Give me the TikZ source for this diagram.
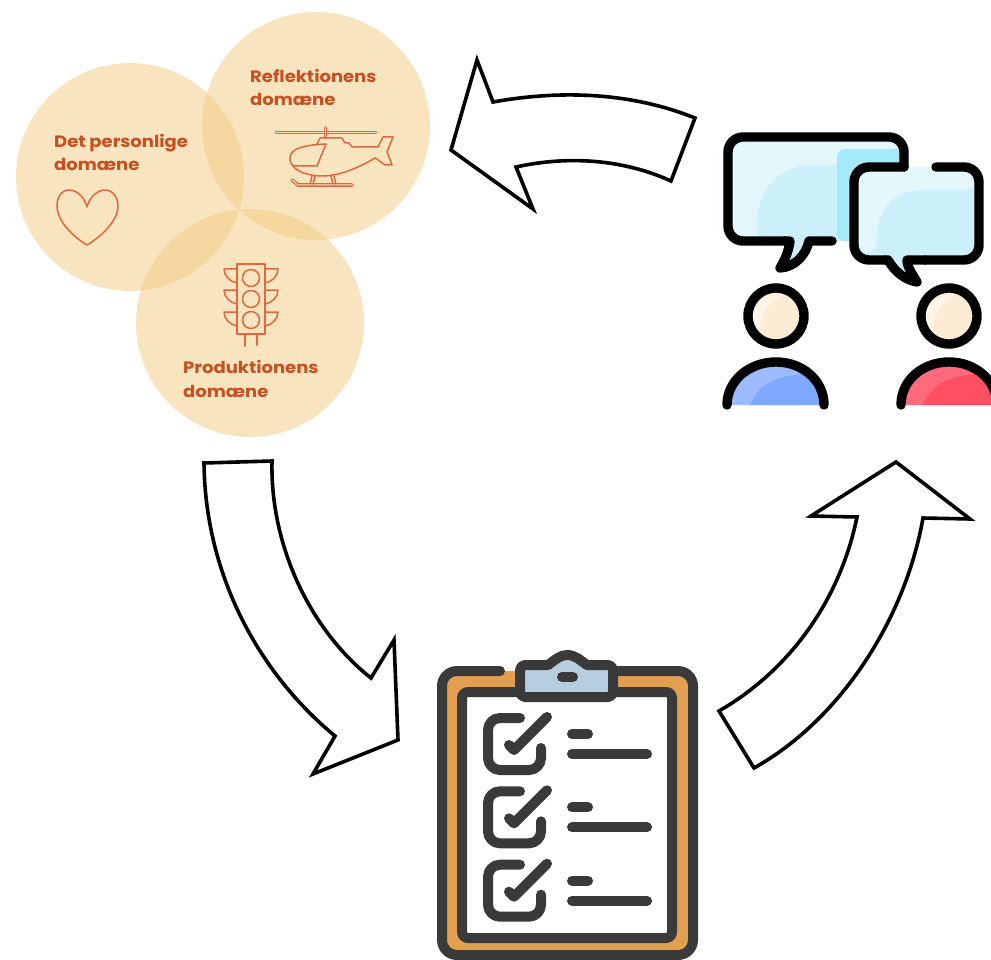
\documentclass[tikz,border=0pt]{standalone}
\usepackage{fontspec}
\setmainfont[FakeStretch=1.09]{Poppins}
\definecolor{circ}{HTML}{F1CB7F}
\definecolor{circbg}{HTML}{F8E5BF}
\definecolor{lbl}{HTML}{C94F21}
\definecolor{ico}{HTML}{E2673F}
\definecolor{bubA}{HTML}{E3F6FC}
\definecolor{bubB}{HTML}{CCF0FA}
\definecolor{bubC}{HTML}{A4EAFA}
\definecolor{skin}{HTML}{FDEBD3}
\definecolor{skinL}{HTML}{FEF4E8}
\definecolor{blueA}{HTML}{9DBBFF}
\definecolor{blueB}{HTML}{7FA8FF}
\definecolor{redA}{HTML}{FF6B7C}
\definecolor{redB}{HTML}{FF4F63}
\definecolor{dark}{HTML}{3A3A3A}
\definecolor{board}{HTML}{E39F50}
\definecolor{clipc}{HTML}{B5CFE0}
\tikzset{
  domdisc/.style={fill=circ,fill opacity=.5},
  domlabel/.style={anchor=base west,inner sep=0pt,text=lbl,font=\fontsize{16.5}{18}\selectfont\bfseries},
  thinicon/.style={draw=ico,line width=1.5pt,line join=round,line cap=round},
  blockarrow/.style={draw=black,fill=white,line width=3.6pt,line join=miter},
  bubble/.style={draw=black,line width=9.4pt,line cap=round,line join=round},
  ink/.style={draw=dark,line width=10pt,line cap=round,line join=round}
}
\begin{document}
\begin{tikzpicture}[x=1pt,y=-1pt]
\useasboundingbox (0,0) rectangle (991,960);
\clip (0,0) rectangle (991,960);
% domains
\fill[domdisc] (130,177) circle[radius=114pt];
\fill[domdisc] (316,126) circle[radius=114pt];
\fill[domdisc] (250,323) circle[radius=114pt];
\node[domlabel] (tperson) at (54,148) {Det personlige};
\node[domlabel] (tperson2) at (54,171) {domæne};
\node[domlabel] (trefl) at (250,82.5) {Reflektionens};
\node[domlabel] (trefl2) at (250,106) {domæne};
\node[domlabel] (tprod) at (183,373.5) {Produktionens};
\node[domlabel] (tprod2) at (183,397) {domæne};
% heart
\draw[thinicon] (87,207) .. controls (84,196) and (76,190) .. (69,190)
  .. controls (61,190) and (57,198) .. (57,206)
  .. controls (57,222) and (75,238) .. (87,245)
  .. controls (99,238) and (118,222) .. (118,206)
  .. controls (118,198) and (113,190) .. (105,190)
  .. controls (98,190) and (90,196) .. (87,207);
% helicopter
\draw[ico,line width=3.8pt,line cap=round] (276.5,132.5) -- (375.5,132.5);
\draw[circbg,line width=1pt,line cap=round] (276.5,132.5) -- (375.5,132.5);
\draw[ico,line width=3.8pt,line cap=round] (325.5,128) -- (325.5,137);
\draw[circbg,line width=1.2pt,line cap=round] (325.5,128) -- (325.5,137);
\draw[thinicon] (326,144) .. controls (305,145) and (290,148) .. (290,158)
  .. controls (290,162) and (291,164) .. (293,166) -- (317,166) -- (326,144)
  (293,166) .. controls (298,173) and (312,176) .. (322,176)
  .. controls (340,176) and (360,167) .. (375,158)
  -- (385,165) -- (392,165) -- (387,152) -- (393,137) -- (383,137) -- (378,147)
  -- (352,147) -- (349,143) -- (345,143) -- (342,138) -- (320,138) -- (317,144);
\draw[ico,line width=3.6pt,line cap=round,line join=round] (292,180) -- (298,185) -- (352,185);
\draw[circbg,line width=1pt,line cap=round,line join=round] (292,180) -- (298,185) -- (352,185);
\draw[thinicon] (312,176) -- (310,184) (315,176) -- (313,184) (331,176) -- (333,184) (334,176) -- (336,184);
% traffic light
\draw[thinicon] (237,264) rectangle (265,334);
\foreach \yy in {278,299,320} \draw[thinicon] (251,\yy) circle[radius=8.5pt];
\foreach \yy in {269,290,312} {
  \draw[thinicon] (237,\yy) -- (224,\yy) .. controls (224,\yy+7) and (230,\yy+13) .. (237,\yy+14);
  \draw[thinicon] (265,\yy) -- (278,\yy) .. controls (278,\yy+7) and (272,\yy+13) .. (265,\yy+14);
}
\draw[thinicon] (245,334) -- (245,346) (257,334) -- (257,345);
% block arrows
\draw[blockarrow] (695,118) .. controls (630,92) and (560,90) .. (493,102) -- (477,60) -- (451,150) -- (533,209) -- (516,167) .. controls (570,155) and (625,160) .. (671,181) -- cycle;
\draw[blockarrow] (204,463) .. controls (205,570) and (255,670) .. (335,736) -- (313,774) -- (398,740) -- (394,640) -- (371,678) .. controls (310,630) and (270,545) .. (272,461) -- cycle;
\draw[blockarrow] (719,711) .. controls (790,670) and (840,600) .. (857,517) -- (811,516) -- (896,462) -- (970,519) -- (923,518) .. controls (905,620) and (840,720) .. (754,768) -- cycle;
% speech bubbles: fills
\fill[bubA,rounded corners=15pt] (728,137) -- (904,137) -- (904,241) -- (728,241) -- cycle;
\begin{scope}
\clip[rounded corners=15pt] (728,137) -- (904,137) -- (904,241) -- (728,241) -- cycle;
\fill[bubB] (757,241) -- (757,225) .. controls (757,190) and (778,165) .. (815,165) -- (904,165) -- (904,241) -- cycle;
\fill[bubC,rounded corners=8pt] (837,241) -- (837,149) -- (920,149) -- (920,241) -- cycle;
\end{scope}
\fill[bubB] (790,241) -- (780,268) .. controls (795,267) and (806,255) .. (809,241) -- cycle;
\fill[bubA,rounded corners=15pt] (854,167) -- (979,167) -- (979,260) -- (854,260) -- cycle;
\begin{scope}
\clip[rounded corners=15pt] (854,167) -- (979,167) -- (979,260) -- (854,260) -- cycle;
\fill[bubB] (854,260) -- (854,253) -- (866,253) .. controls (873,253) and (877,248) .. (877,240)
  .. controls (877,210) and (892,190) .. (925,190) -- (965,190) .. controls (972,190) and (975,186) .. (979,180) -- (979,260) -- cycle;
\end{scope}
\fill[bubB] (888,260) .. controls (895,272) and (905,280) .. (917,282) -- (907,260) -- cycle;
% speech bubbles: outlines
\draw[bubble,rounded corners=15pt] (904,167) -- (904,137) -- (728,137) -- (728,241) -- (785,241);
\draw[bubble] (785,241) -- (790,241) .. controls (789,250) and (785,260) .. (780,268) .. controls (795,267) and (806,255) .. (809,241) -- (832,241);
\draw[bubble,rounded corners=15pt] (904,167) -- (854,167) -- (854,260) -- (885,260);
\draw[bubble] (885,260) -- (888,260) .. controls (895,272) and (905,280) .. (917,282) .. controls (912,274) and (907,266) .. (907,260) -- (925,260);
\draw[bubble,rounded corners=15pt] (925,260) -- (979,260) -- (979,167) -- (936,167);
% people
\foreach \cx in {776,949} {
  \fill[skin] (\cx,316) circle[radius=28pt];
  \fill[skinL] (\cx-24,330) .. controls (\cx-28,310) and (\cx-18,295) .. (\cx+12,293) .. controls (\cx-5,298) and (\cx-16,312) .. (\cx-16,335) -- cycle;
  \draw[bubble] (\cx,316) circle[radius=28pt];
}
\fill[blueA] (727,405) .. controls (727,380) and (750,362) .. (776,362) .. controls (802,362) and (824,380) .. (824,405) -- cycle;
\fill[blueB] (750,405) .. controls (756,390) and (768,378) .. (795,375) .. controls (802,374) and (805,372) .. (808,369) .. controls (818,378) and (824,390) .. (824,405) -- cycle;
\draw[bubble] (727,405) .. controls (727,380) and (750,362) .. (776,362) .. controls (802,362) and (824,380) .. (824,405);
\fill[redA] (901,405) .. controls (901,380) and (923,362) .. (949,362) .. controls (975,362) and (997,380) .. (997,405) -- cycle;
\fill[redB] (923,405) .. controls (929,390) and (941,378) .. (968,375) .. controls (975,374) and (978,372) .. (981,369) .. controls (991,378) and (997,390) .. (997,405) -- cycle;
\draw[bubble] (901,405) .. controls (901,380) and (923,362) .. (949,362) .. controls (975,362) and (997,380) .. (997,405);
% clipboard
\fill[board,rounded corners=15pt] (442,671) rectangle (693,955);
\draw[ink,rounded corners=15pt] (500,671) -- (442,671) -- (442,955) -- (693,955) -- (693,671) -- (618,671);
\filldraw[ink,fill=white,rounded corners=6pt] (462,692) rectangle (672,938);
\filldraw[ink,fill=clipc,rounded corners=5pt] (548,665) -- (520,665) -- (520,697) -- (613,697) -- (613,665) -- (587,665);
\fill[clipc] (548,665) .. controls (555,660) and (560,655) .. (567,655) .. controls (575,655) and (580,660) .. (587,665) -- cycle;
\draw[ink] (548,665) .. controls (555,660) and (560,655) .. (567,655) .. controls (575,655) and (580,660) .. (587,665);
\draw[ink] (562,677) -- (573,677);
\foreach \dy in {0,73.3,146.7} {
  \begin{scope}[yshift=-\dy pt]
  \draw[ink,rounded corners=12pt] (520,718) -- (488,718) -- (488,770) -- (541,770) -- (541,748);
  \draw[ink] (509,745) -- (514,750) -- (547,717);
  \draw[ink] (572,734) -- (588,734);
  \draw[ink] (572,754) -- (647,754);
  \end{scope}
}
\end{tikzpicture}
\end{document}
